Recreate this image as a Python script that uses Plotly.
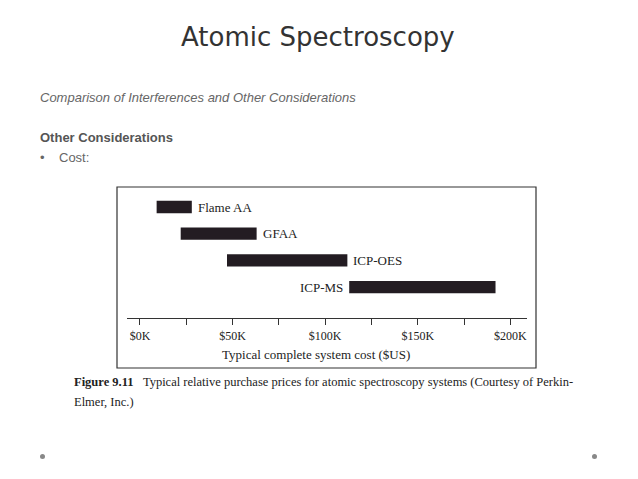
import plotly.graph_objects as go

systems = ["Flame AA", "GFAA", "ICP-OES", "ICP-MS"]
cost_low = [9, 22, 47, 113]     # $K
cost_high = [28, 63, 112, 192]  # $K
label_side = ["right", "right", "right", "left"]
tick_values = [0, 25, 50, 75, 100, 125, 150, 175, 200]
tick_labels = ["$0K", "", "$50K", "", "$100K", "", "$150K", "", "$200K"]

W, H = 638, 479
OFF = 8  # page body margin
def px(x): return (x - OFF) / W
def py(y): return 1 - (y - OFF) / H

fig = go.Figure()
fig.add_trace(go.Bar(
    y=systems, x=[h - l for l, h in zip(cost_low, cost_high)], base=cost_low,
    orientation="h", marker=dict(color="#231c22", line=dict(width=0)),
    width=0.46, hoverinfo="skip"))

ann = []
for s, l, h, side in zip(systems, cost_low, cost_high, label_side):
    if side == "right":
        ann.append(dict(x=h, y=s, xref="x", yref="y", text=s, showarrow=False,
                        xanchor="left", xshift=4))
    else:
        ann.append(dict(x=l, y=s, xref="x", yref="y", text=s, showarrow=False,
                        xanchor="right", xshift=-4))
for a in ann:
    a["font"] = dict(family="Liberation Serif", size=13, color="#222")

serif = dict(family="Liberation Serif", color="#222")
texts = [
    dict(x=px(318), y=py(37), text="Atomic Spectroscopy", xanchor="center",
         font=dict(family="DejaVu Sans", size=26, color="#333")),
    dict(x=px(38), y=py(97), text="<i>Comparison of Interferences and Other Considerations</i>",
         xanchor="left", font=dict(family="Liberation Sans", size=13, color="#666")),
    dict(x=px(38), y=py(137), text="<b>Other Considerations</b>", xanchor="left",
         font=dict(family="Liberation Sans", size=13, color="#555")),
    dict(x=px(38), y=py(158), text="•&nbsp;&nbsp;&nbsp;&nbsp;Cost:", xanchor="left",
         font=dict(family="Liberation Sans", size=13, color="#666")),
    dict(x=px(316), y=py(354), text="Typical complete system cost ($US)", xanchor="center",
         font=dict(size=13, **serif)),
    dict(x=px(72), y=py(382), text="<b>Figure 9.11</b>&nbsp;&nbsp;&nbsp;Typical relative purchase prices for atomic spectroscopy systems (Courtesy of Perkin-",
         xanchor="left", font=dict(size=12.5, **serif)),
    dict(x=px(72), y=py(402), text="Elmer, Inc.)", xanchor="left", font=dict(size=12.5, **serif)),
]
for t in texts:
    ann.append(dict(xref="paper", yref="paper", showarrow=False, yanchor="middle", **t))

shapes = [
    dict(type="rect", xref="paper", yref="paper", x0=px(117), x1=px(536),
         y0=py(368), y1=py(187), line=dict(color="#333", width=1.2)),
    dict(type="circle", xref="paper", yref="paper", x0=px(40), x1=px(45),
         y0=py(459), y1=py(454), fillcolor="#888", line=dict(width=0)),
    dict(type="circle", xref="paper", yref="paper", x0=px(592), x1=px(597),
         y0=py(459), y1=py(454), fillcolor="#888", line=dict(width=0)),
]

fig.update_layout(
    width=W, height=H, margin=dict(l=0, r=0, t=0, b=0),
    paper_bgcolor="white", plot_bgcolor="white", showlegend=False,
    annotations=ann, shapes=shapes,
    xaxis=dict(domain=[px(127), px(527)], range=[-7, 209], tickvals=tick_values,
               ticktext=tick_labels, showgrid=False, zeroline=False,
               showline=True, linecolor="#333", linewidth=1.2,
               ticks="outside", ticklen=6, tickcolor="#333",
               tickfont=dict(size=12, **serif), fixedrange=True),
    yaxis=dict(domain=[py(318), py(195)], categoryorder="array",
               categoryarray=systems[::-1], showticklabels=False, showgrid=False,
               zeroline=False, showline=False, range=[-1.16, 3.45], fixedrange=True),
)
fig.write_html("out.html")
